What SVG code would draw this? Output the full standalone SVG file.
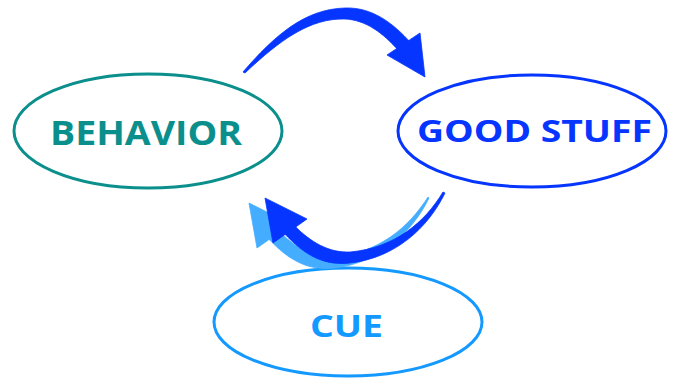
<svg xmlns="http://www.w3.org/2000/svg" width="675" height="380" viewBox="0 0 675 380">
<style>
.lbl{font-family:"Open Sans","Liberation Sans",sans-serif;font-weight:700;text-anchor:middle}
.ell{fill:#fff;stroke-width:3}
.dark{fill:#0535ff;stroke:#0535ff;stroke-width:0.8;stroke-linejoin:round}
.light{fill:#45adff;stroke:#45adff;stroke-width:0.8;stroke-linejoin:round}
</style>
<rect width="675" height="380" fill="#fff"/>
<g id="node-behavior">
<ellipse class="ell" cx="148" cy="131" rx="134" ry="57" stroke="#0b8f8c"/>
<text class="lbl" x="146" y="145" font-size="34" fill="#0b8f8c" textLength="192" lengthAdjust="spacingAndGlyphs">BEHAVIOR</text>
</g>
<g id="node-goodstuff">
<ellipse class="ell" cx="532" cy="131" rx="134" ry="56" stroke="#0535ff"/>
<text class="lbl" x="534.5" y="142" font-size="31" fill="#0535ff" textLength="235" lengthAdjust="spacingAndGlyphs">GOOD STUFF</text>
</g>
<g id="node-cue">
<ellipse class="ell" cx="348" cy="322" rx="134" ry="54" stroke="#1399ff"/>
<text class="lbl" x="346.5" y="337" font-size="31" fill="#1399ff" textLength="73" lengthAdjust="spacingAndGlyphs">CUE</text>
</g>
<g id="connectors">
<g id="arrow-behavior-goodstuff" class="dark">
<path d="M243,72 C275,35 305,9 345,8 C372,7 393,23 411,43 L399,51 C383,33 366,20 345,19 C310,18 280,40 245,73 Z"/>
<polygon points="387,55 420,33 425,77"/>
</g>
<g id="arrow-goodstuff-behavior-shadow" class="light" transform="translate(-16,5)">
<path d="M444,192 C425,222 395,248 350,252 C330,253 311,243 293.6,224.8 L283.6,232.8 C305,256 325,266 350,263 C395,258 428,228 445,193 Z"/>
<polygon points="265,198 307,219 273,243"/>
</g>
<g id="arrow-goodstuff-behavior" class="dark">
<path d="M443,192 C425,222 395,248 350,252 C330,253 311,243 293.6,224.8 L283.6,232.8 C305,256 325,266 350,263 C395,258 428,228 445,193 Z"/>
<polygon points="265,198 307,219 273,243"/>
</g>
</g>
</svg>
